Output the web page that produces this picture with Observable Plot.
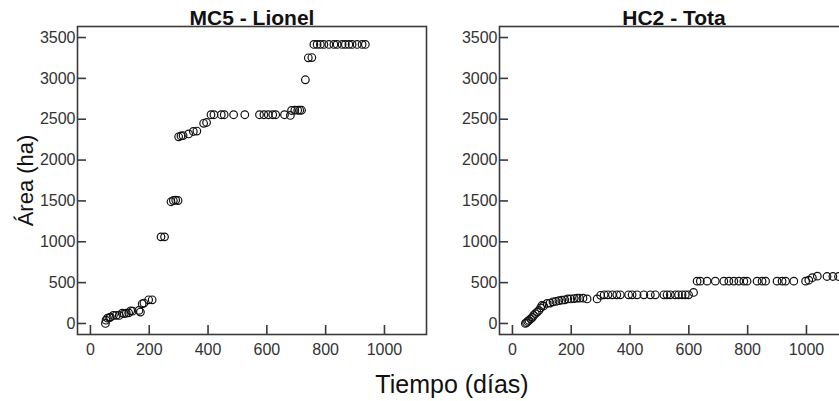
<!DOCTYPE html>
<html>
<head>
<meta charset="utf-8">
<script src="https://cdn.jsdelivr.net/npm/d3@7"></script>
<script src="https://cdn.jsdelivr.net/npm/@observablehq/plot@0.6"></script>
<style>
  html, body { margin: 0; padding: 0; background: #fff; overflow: hidden; }
  #wrap { position: relative; width: 839px; height: 401px; overflow: hidden; font-family: "Liberation Sans", Arial, sans-serif; }
  .panel { position: absolute; top: 0; width: 430px; height: 370px; }
  .panel svg { max-width: none !important; }
  #xlabel { position: absolute; top: 372px; left: 452px; transform: translateX(-50%); font-size: 25px; line-height: 25px; color: #111; white-space: nowrap; }
</style>
</head>
<body>
<div id="wrap">
  <div id="left" class="panel" style="left:0px"></div>
  <div id="right" class="panel" style="left:422px"></div>
  <div id="xlabel">Tiempo (días)</div>
</div>
<script>
// ---- data ----
const titles = ["MC5 - Lionel", "HC2 - Tota"];
const yLabel = "Área (ha)";
const xTicks = [0, 200, 400, 600, 800, 1000];
const yTicks = [0, 500, 1000, 1500, 2000, 2500, 3000, 3500];

const lionelDays = [51,53,58,65,68,78,88,98,108,115,122,130,137,143,165,170,176,182,198,210,
  240,252,274,282,290,298,300,308,315,334,350,362,385,395,
  410,420,445,455,487,525,575,590,605,620,630,660,680,684,695,705,712,718,731,741,753,
  760,771,782,794,811,828,839,856,867,879,890,907,924,935];
const lionelArea = [0,40,65,70,78,98,100,98,126,120,126,130,155,150,160,140,241,250,290,290,
  1060,1060,1490,1505,1510,1505,2285,2295,2300,2320,2350,2355,2450,2460,
  2555,2555,2555,2555,2555,2555,2555,2555,2555,2555,2555,2555,2546,2607,2610,2610,2610,2610,2983,3252,3255,
  3415,3415,3415,3415,3415,3415,3415,3415,3415,3415,3415,3415,3415,3415];

const totaDays = [44,48,52,56,62,68,72,78,84,90,96,100,106,118,128,138,148,158,168,178,188,198,210,220,228,240,254,288,
  300,312,325,340,355,367,395,407,424,447,469,486,515,526,537,554,565,577,588,599,616,
  628,639,662,690,719,736,753,770,787,798,832,849,861,900,917,929,957,997,1008,1020,1037,1070,1090,1109];
const totaArea = [0,10,25,37,55,75,98,120,139,160,190,220,215,245,250,265,270,280,285,290,300,300,305,310,310,310,300,300,
  345,351,351,351,351,351,351,351,351,351,351,351,351,351,351,351,351,351,351,351,380,
  518,518,518,518,518,518,518,518,518,518,518,518,518,518,518,518,518,518,530,560,579,575,575,575];

const lionel = lionelDays.map((d, i) => ({t: d, a: lionelArea[i]}));
const tota = totaDays.map((d, i) => ({t: d, a: totaArea[i]}));

function panel(data, title, withYLabel) {
  const marks = [
    Plot.frame({stroke: "#3a3a3a", strokeWidth: 1.6}),
    Plot.tickX(xTicks, {x: d => d, insetTop: 299, stroke: "#3a3a3a", strokeWidth: 1.6}),
    Plot.tickY(yTicks, {y: d => d, insetRight: 340, stroke: "#3a3a3a", strokeWidth: 1.6}),
    Plot.axisX(xTicks, {tickSize: 0, tickPadding: 9, label: null, fontSize: 16, tickFormat: d => String(d)}),
    Plot.axisY(yTicks, {tickSize: 0, tickPadding: 2, label: null, fontSize: 16, tickFormat: d => String(d)}),
    Plot.dot(data, {x: "t", y: "a", r: 3.8, stroke: "#111", strokeWidth: 1.2, fill: "none"}),
    Plot.text([title], {frameAnchor: "top", lineAnchor: "bottom", dy: -2, fontSize: 21, fontWeight: "bold", fill: "#111"})
  ];
  if (withYLabel) {
    marks.push(Plot.text([yLabel], {frameAnchor: "left", dx: -52, rotate: -90, fontSize: 22, fill: "#111", textAnchor: "middle", lineAnchor: "middle"}));
  }
  return Plot.plot({
    width: 430,
    height: 370,
    marginLeft: 77,
    marginRight: 4,
    marginTop: 26,
    marginBottom: 36,
    style: {fontFamily: "Liberation Sans, Arial, sans-serif", color: "#333", background: "transparent", overflow: "visible", maxWidth: "none"},
    x: {domain: [-44, 1143]},
    y: {domain: [-135, 3635]},
    marks
  });
}

document.getElementById("left").append(panel(lionel, titles[0], true));
document.getElementById("right").append(panel(tota, titles[1], false));
</script>
</body>
</html>
